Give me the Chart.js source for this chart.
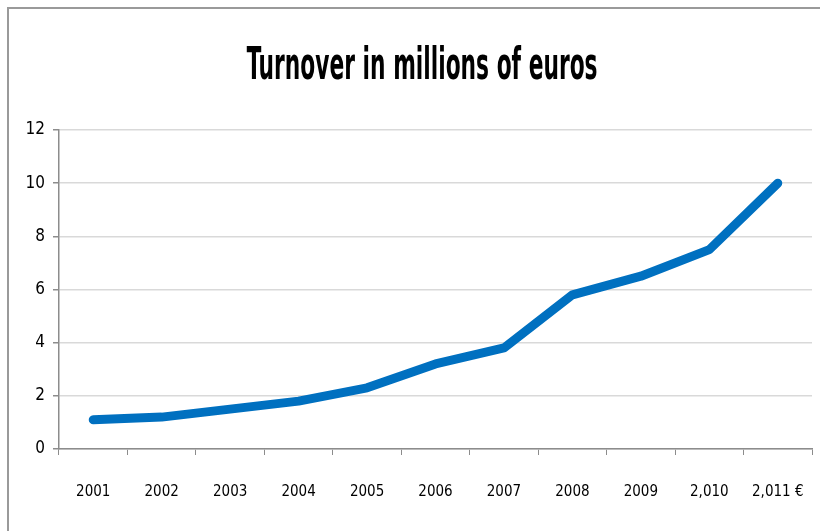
<!DOCTYPE html>
<html lang="en">
<head>
    <meta charset="UTF-8">
    <title>Turnover in millions of euros</title>
    <style>
        body {
            margin: 0;
            background: #fff;
        }
        .wrap {
            position: relative;
            width: 820px;
            height: 531px;
            overflow: hidden;
        }
        .frame {
            position: absolute;
            left: 7px;
            top: 7px;
            width: 900px;
            height: 600px;
            border-left: 2px solid #9a9a9a;
            border-top: 2px solid #9a9a9a;
        }
        canvas {
            position: absolute;
            left: 0;
            top: 0;
        }
        /* condensed bold title, squeezed like the original */
        .title {
            position: absolute;
            left: 422px;
            top: 42px;
            font-family: "DejaVu Sans Condensed", "DejaVu Sans", sans-serif;
            font-weight: bold;
            font-size: 44px;
            line-height: 44px;
            white-space: nowrap;
            color: #000;
            transform: translateX(-50%) scaleX(0.55);
        }
    </style>
</head>
<body>
    <div class="wrap">
        <div class="frame"></div>
        <canvas id="turnoverChart" width="820" height="531"></canvas>
        <div class="title">Turnover in millions of euros</div>
    </div>
    <script src="https://cdn.jsdelivr.net/npm/chart.js"></script>
    <script>
        const years = ['2001', '2002', '2003', '2004', '2005', '2006', '2007', '2008', '2009', '2,010', '2,011 €'];
        const turnover = [1.1, 1.2, 1.5, 1.8, 2.3, 3.2, 3.8, 5.8, 6.5, 7.5, 10];
        const yTicks = [0, 2, 4, 6, 8, 10, 12];

        const narrow = '"DejaVu Sans Condensed", "DejaVu Sans", sans-serif';

        const ctx = document.getElementById('turnoverChart').getContext('2d');
        new Chart(ctx, {
            type: 'line',
            data: {
                labels: years,
                datasets: [{
                    label: 'Turnover',
                    data: turnover,
                    borderColor: '#0070c0',
                    borderWidth: 9,
                    borderCapStyle: 'round',
                    borderJoinStyle: 'round',
                    pointRadius: 0,
                    tension: 0
                }]
            },
            options: {
                responsive: false,
                animation: false,
                layout: {
                    padding: { left: 24, right: 8, top: 130, bottom: 7 }
                },
                plugins: {
                    legend: { display: false },
                    tooltip: { enabled: false },
                    title: { display: false }
                },
                scales: {
                    x: {
                        offset: true,
                        afterFit: scale => {
                            scale.height = 75;
                            // big tick padding would otherwise eat space on the sides
                            scale.paddingLeft = 0;
                            scale.paddingRight = 0;
                        },
                        grid: {
                            offset: true,
                            drawOnChartArea: false,
                            drawTicks: true,
                            tickLength: 6,
                            color: '#8c8c8c'
                        },
                        border: { color: '#8c8c8c', width: 1.5 },
                        ticks: {
                            color: '#000',
                            padding: 28,
                            maxRotation: 0,
                            autoSkip: false,
                            font: { family: narrow, size: 15 }
                        }
                    },
                    y: {
                        min: 0,
                        max: 12,
                        afterFit: scale => { scale.width = 35; },
                        afterBuildTicks: axis => {
                            axis.ticks = yTicks.map(v => ({ value: v }));
                        },
                        grid: {
                            color: '#d9d9d9',
                            lineWidth: 1.5,
                            tickLength: 6,
                            tickColor: '#8c8c8c'
                        },
                        border: { color: '#8c8c8c', width: 1.5 },
                        ticks: {
                            color: '#000',
                            padding: 8,
                            font: { family: narrow, size: 17 }
                        }
                    }
                }
            }
        });
    </script>
</body>
</html>
